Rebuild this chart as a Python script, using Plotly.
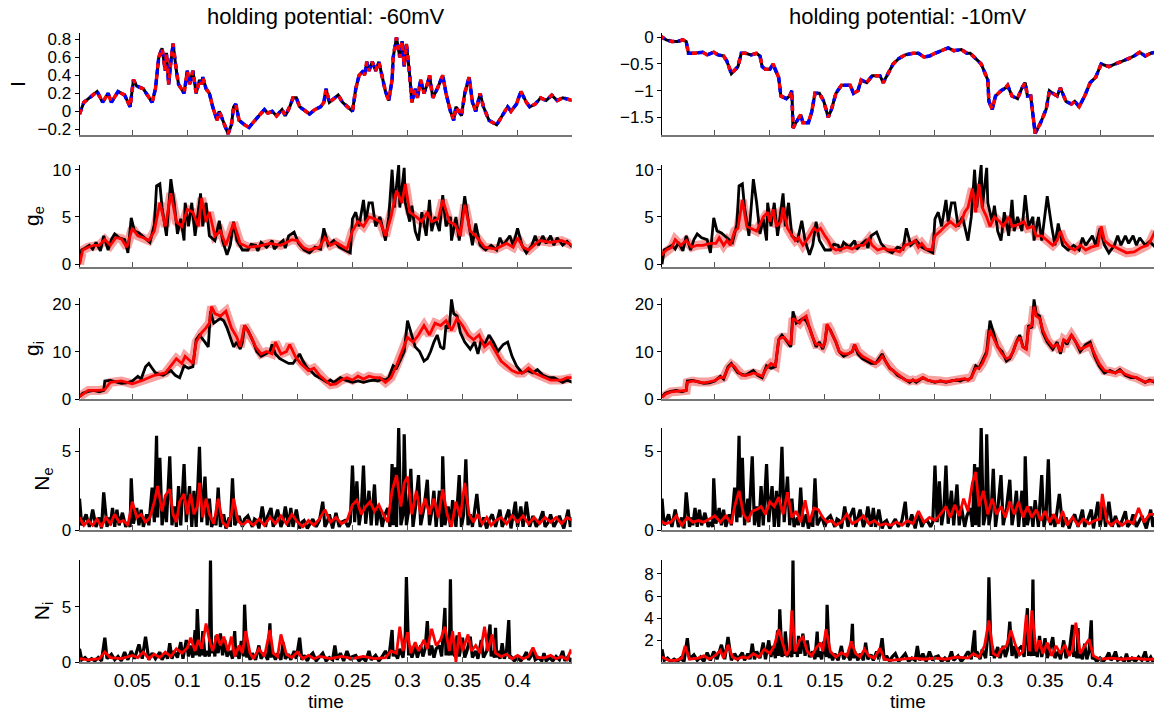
import plotly.graph_objects as go

# ---------------- data (time, value) ----------------
I_left = [(0.002,-0.03),(0.006,0.10),(0.011,0.15),(0.018,0.22),(0.023,0.10),(0.028,0.20),(0.031,0.10),(0.037,0.22),
(0.043,0.18),(0.048,0.05),(0.051,0.35),(0.054,0.28),(0.060,0.25),(0.065,0.15),(0.068,0.10),(0.071,0.25),(0.074,0.60),
(0.077,0.70),(0.080,0.45),(0.081,0.65),(0.083,0.30),(0.085,0.55),(0.087,0.75),(0.090,0.45),(0.092,0.30),(0.097,0.20),
(0.100,0.45),(0.102,0.30),(0.105,0.45),(0.108,0.20),(0.111,0.35),(0.113,0.30),(0.114,0.38),(0.117,0.25),(0.120,0.20),
(0.123,0.05),(0.127,-0.10),(0.129,0.00),(0.134,-0.15),(0.137,-0.25),(0.140,-0.15),(0.142,0.05),(0.144,0.08),(0.147,-0.10),
(0.152,-0.15),(0.156,-0.18),(0.160,-0.12),(0.165,-0.05),(0.170,0.02),(0.173,-0.02),(0.177,0.00),(0.181,-0.05),(0.186,0.02),
(0.189,-0.05),(0.193,0.05),(0.196,0.15),(0.199,0.15),(0.202,0.05),(0.208,0.00),(0.211,-0.03),(0.216,0.02),(0.221,0.05),
(0.224,0.10),(0.226,0.25),(0.229,0.10),(0.234,0.15),(0.237,0.18),(0.241,0.10),(0.246,0.05),(0.250,0.00),(0.253,0.25),
(0.256,0.40),(0.260,0.45),(0.261,0.40),(0.263,0.55),(0.265,0.45),(0.268,0.55),(0.271,0.45),(0.274,0.55),(0.278,0.35),
(0.280,0.22),(0.283,0.12),(0.286,0.35),(0.287,0.60),(0.290,0.82),(0.293,0.60),(0.295,0.78),(0.297,0.50),(0.299,0.75),
(0.302,0.40),(0.304,0.10),(0.307,0.25),(0.309,0.15),(0.312,0.35),(0.315,0.20),(0.318,0.30),(0.320,0.40),(0.323,0.15),
(0.327,0.25),(0.332,0.40),(0.335,0.20),(0.339,0.00),(0.342,-0.10),(0.344,0.05),(0.349,-0.05),(0.352,0.20),(0.356,0.38),
(0.359,0.10),(0.362,0.00),(0.366,0.20),(0.369,0.05),(0.374,-0.10),(0.381,-0.15),(0.386,-0.05),(0.391,0.05),(0.394,0.00),
(0.399,0.08),(0.403,0.22),(0.408,0.10),(0.411,0.05),(0.416,0.08),(0.421,0.15),(0.426,0.12),(0.431,0.18),(0.436,0.12),
(0.441,0.15),(0.450,0.12)]

I_right = [(0.000,0.03),(0.006,-0.05),(0.011,-0.08),(0.016,-0.08),(0.021,-0.05),(0.024,-0.08),(0.026,-0.30),(0.031,-0.30),
(0.039,-0.28),(0.043,-0.33),(0.049,-0.28),(0.053,-0.33),(0.058,-0.35),(0.061,-0.45),(0.065,-0.68),(0.069,-0.60),(0.071,-0.55),
(0.074,-0.30),(0.078,-0.30),(0.083,-0.33),(0.088,-0.30),(0.091,-0.35),(0.093,-0.55),(0.096,-0.60),(0.100,-0.60),(0.103,-0.50),
(0.105,-0.62),(0.108,-0.75),(0.110,-1.10),(0.115,-1.15),(0.118,-1.10),(0.120,-1.00),(0.121,-1.70),(0.125,-1.55),(0.128,-1.45),
(0.130,-1.60),(0.135,-1.60),(0.138,-1.40),(0.141,-1.05),(0.145,-1.05),(0.149,-1.20),(0.153,-1.50),(0.156,-1.35),(0.160,-1.05),
(0.165,-0.90),(0.170,-0.90),(0.173,-0.90),(0.176,-1.05),(0.180,-1.00),(0.183,-0.80),(0.188,-0.85),(0.193,-0.72),(0.200,-0.72),
(0.203,-0.85),(0.207,-0.70),(0.212,-0.50),(0.217,-0.40),(0.223,-0.33),(0.230,-0.30),(0.235,-0.30),(0.240,-0.37),(0.245,-0.35),
(0.250,-0.30),(0.257,-0.25),(0.262,-0.20),(0.267,-0.25),(0.274,-0.23),(0.279,-0.30),(0.282,-0.30),(0.287,-0.40),(0.292,-0.50),
(0.295,-0.65),(0.298,-0.80),(0.299,-1.20),(0.302,-1.35),(0.305,-1.10),(0.310,-1.00),(0.314,-0.95),(0.316,-0.90),(0.320,-1.10),
(0.325,-1.15),(0.329,-0.95),(0.332,-0.85),(0.334,-1.10),(0.337,-1.10),(0.341,-1.80),(0.346,-1.60),(0.351,-1.35),(0.354,-1.00),
(0.357,-1.05),(0.361,-1.10),(0.364,-0.95),(0.369,-1.20),(0.374,-1.25),(0.377,-1.20),(0.381,-1.30),(0.386,-1.10),(0.391,-0.85),
(0.396,-0.75),(0.401,-0.50),(0.408,-0.55),(0.414,-0.50),(0.421,-0.45),(0.426,-0.40),(0.431,-0.35),(0.436,-0.28),(0.441,-0.35),
(0.446,-0.30),(0.450,-0.28)]

ge_true = [(0.002,0.0),(0.004,1.5),(0.007,1.7),(0.011,2.0),(0.014,1.6),(0.017,2.3),(0.021,1.4),(0.024,3.0),(0.028,1.5),
(0.031,2.6),(0.034,3.2),(0.038,2.8),(0.043,2.6),(0.046,1.2),(0.049,4.9),(0.052,3.5),(0.056,3.3),(0.061,2.8),(0.066,2.3),
(0.070,4.2),(0.072,8.3),(0.075,8.5),(0.077,6.0),(0.081,3.0),(0.085,9.0),(0.088,6.5),(0.091,3.2),(0.094,4.8),(0.097,2.5),
(0.098,6.5),(0.101,4.0),(0.104,6.5),(0.107,3.0),(0.112,7.5),(0.114,4.0),(0.117,6.5),(0.120,3.0),(0.125,2.5),(0.129,4.6),
(0.132,2.5),(0.136,1.0),(0.139,2.0),(0.142,4.5),(0.145,2.5),(0.150,1.5),(0.155,1.5),(0.158,2.1),(0.162,2.0),(0.164,1.4),
(0.167,2.3),(0.172,1.8),(0.177,2.5),(0.179,1.6),(0.182,2.0),(0.187,2.5),(0.189,1.7),(0.192,3.0),(0.197,3.4),(0.201,2.2),
(0.206,1.5),(0.211,1.2),(0.216,1.8),(0.221,1.6),(0.224,3.8),(0.228,2.0),(0.233,2.5),(0.238,1.8),(0.243,1.5),(0.248,1.2),
(0.250,4.8),(0.253,5.5),(0.256,4.0),(0.260,6.8),(0.262,4.5),(0.265,6.5),(0.268,6.5),(0.271,4.0),(0.275,5.0),(0.280,2.5),
(0.283,5.0),(0.286,10.0),(0.288,6.0),(0.292,10.5),(0.293,6.0),(0.297,10.2),(0.298,6.5),(0.302,4.5),(0.304,6.2),(0.307,3.5),
(0.310,2.5),(0.313,5.5),(0.317,3.0),(0.320,6.8),(0.322,3.5),(0.325,5.0),(0.329,3.5),(0.332,7.3),(0.335,4.0),(0.339,5.0),
(0.340,2.5),(0.344,5.0),(0.347,2.5),(0.352,7.2),(0.356,4.0),(0.359,2.0),(0.362,4.3),(0.366,2.0),(0.371,1.5),(0.376,2.0),
(0.381,1.5),(0.384,2.8),(0.387,2.0),(0.393,3.0),(0.396,2.0),(0.400,3.8),(0.404,2.0),(0.408,1.2),(0.413,2.0),(0.416,3.0),
(0.419,2.0),(0.423,3.0),(0.426,2.2),(0.430,3.0),(0.433,2.0),(0.436,2.8),(0.441,2.0),(0.445,2.4),(0.450,1.8)]

ge_est_left = [(0.002,0.0),(0.005,1.5),(0.010,1.8),(0.015,2.0),(0.020,2.0),(0.025,2.6),(0.030,2.0),(0.035,2.8),(0.040,2.7),
(0.045,1.8),(0.050,3.8),(0.055,3.0),(0.060,2.8),(0.065,2.5),(0.070,3.5),(0.075,6.5),(0.080,4.0),(0.085,7.5),(0.090,4.5),
(0.095,4.0),(0.100,5.8),(0.105,5.5),(0.110,4.0),(0.113,7.0),(0.117,4.5),(0.120,5.5),(0.125,3.0),(0.130,3.5),(0.135,2.0),
(0.142,4.4),(0.148,2.2),(0.155,1.8),(0.165,1.9),(0.175,2.2),(0.185,2.0),(0.195,2.6),(0.200,2.5),(0.205,1.8),(0.210,1.5),
(0.220,1.8),(0.225,2.8),(0.230,2.0),(0.235,2.3),(0.245,1.6),(0.250,3.5),(0.255,4.5),(0.260,4.0),(0.265,5.0),(0.270,4.8),
(0.275,4.5),(0.280,3.0),(0.285,5.0),(0.290,7.8),(0.295,6.5),(0.298,8.5),(0.302,5.5),(0.308,5.0),(0.313,4.5),(0.318,5.5),
(0.322,4.5),(0.328,4.8),(0.332,6.8),(0.338,4.5),(0.343,4.2),(0.348,3.0),(0.352,6.3),(0.357,3.5),(0.362,3.0),(0.370,1.8),
(0.380,1.6),(0.390,2.2),(0.396,1.8),(0.400,2.8),(0.405,1.8),(0.410,1.5),(0.420,2.5),(0.430,2.3),(0.440,2.5),(0.450,2.0)]

ge_est_right = [(0.000,0.8),(0.006,1.5),(0.011,1.8),(0.014,2.6),(0.019,2.0),(0.024,2.5),(0.029,1.8),(0.034,2.0),(0.039,2.0),
(0.046,2.2),(0.051,2.2),(0.054,2.8),(0.058,2.0),(0.061,2.5),(0.064,2.0),(0.068,3.5),(0.071,3.8),(0.075,6.8),(0.079,4.0),
(0.083,3.8),(0.088,3.5),(0.091,4.2),(0.094,5.0),(0.098,5.5),(0.100,4.5),(0.103,5.8),(0.106,4.0),(0.110,4.5),(0.112,6.0),
(0.116,3.8),(0.120,3.0),(0.123,2.5),(0.126,2.8),(0.130,2.0),(0.135,2.8),(0.140,3.8),(0.143,3.5),(0.146,3.8),(0.150,3.0),
(0.153,2.5),(0.156,1.8),(0.160,1.5),(0.165,1.6),(0.170,1.8),(0.175,1.6),(0.180,2.0),(0.185,2.0),(0.190,2.7),(0.193,2.0),
(0.198,1.5),(0.203,1.7),(0.208,1.5),(0.213,1.5),(0.218,1.3),(0.223,2.0),(0.228,2.2),(0.232,2.5),(0.235,1.8),(0.238,2.2),
(0.242,1.6),(0.247,1.5),(0.250,3.0),(0.255,3.5),(0.259,4.0),(0.264,4.5),(0.269,4.0),(0.274,4.5),(0.277,5.5),(0.280,6.0),
(0.284,8.0),(0.287,5.5),(0.290,8.5),(0.293,6.0),(0.297,5.0),(0.300,4.0),(0.304,5.0),(0.309,4.5),(0.312,4.0),(0.317,5.0),
(0.320,4.0),(0.326,4.2),(0.331,4.5),(0.334,3.8),(0.339,4.0),(0.342,3.0),(0.347,3.0),(0.352,2.5),(0.357,2.0),(0.361,2.5),
(0.364,3.5),(0.367,2.5),(0.372,1.8),(0.377,1.5),(0.382,2.0),(0.387,1.5),(0.392,1.8),(0.398,2.0),(0.401,4.0),(0.404,2.5),
(0.409,2.0),(0.414,1.8),(0.419,1.5),(0.424,1.2),(0.431,1.3),(0.438,1.8),(0.443,2.0),(0.446,2.5),(0.450,3.5)]

gi_t = [0.002,0.005,0.010,0.015,0.020,0.024,0.025,0.030,0.035,0.040,0.045,0.050,0.055,0.058,0.062,0.065,0.068,0.071,0.075,
0.078,0.082,0.085,0.089,0.093,0.097,0.101,0.105,0.108,0.111,0.113,0.116,0.119,0.121,0.124,0.127,0.130,0.133,0.136,0.139,
0.142,0.145,0.148,0.150,0.152,0.155,0.158,0.160,0.163,0.167,0.171,0.175,0.177,0.180,0.184,0.188,0.192,0.196,0.199,0.202,
0.205,0.209,0.212,0.216,0.220,0.223,0.227,0.230,0.233,0.236,0.239,0.243,0.247,0.250,0.255,0.260,0.265,0.270,0.273,0.277,
0.280,0.283,0.287,0.290,0.293,0.297,0.300,0.303,0.307,0.311,0.315,0.318,0.321,0.324,0.327,0.330,0.333,0.335,0.338,0.340,
0.342,0.345,0.348,0.352,0.357,0.361,0.364,0.367,0.370,0.374,0.378,0.382,0.387,0.391,0.395,0.399,0.404,0.409,0.414,0.418,
0.423,0.428,0.433,0.437,0.441,0.445,0.450]
gi_true_v = [0.5,1.2,1.6,1.8,1.5,1.8,3.8,3.9,3.6,3.3,3.4,3.8,4.8,4.2,6.8,7.5,6.5,5.5,5.2,5.0,5.6,6.0,5.0,4.5,7.0,6.5,6.8,
12.5,13.5,12.8,12.0,11.0,18.5,16.0,16.5,17.0,16.5,15.0,13.0,11.0,12.0,10.5,12.0,15.5,14.5,13.0,12.0,10.0,9.0,9.5,10.0,
11.5,9.5,8.5,8.0,7.5,7.5,8.5,9.5,8.0,6.5,6.0,5.0,4.5,4.0,3.5,4.0,3.5,4.0,4.5,4.0,3.8,3.5,3.8,3.5,3.8,4.0,3.8,4.2,4.0,
4.5,7.0,6.5,8.0,10.0,16.5,14.0,11.0,10.0,8.0,8.5,10.0,12.0,13.5,11.0,10.5,15.5,15.0,21.0,18.0,17.5,14.0,12.0,10.5,12.0,
9.5,12.5,11.5,13.5,12.0,10.0,11.5,12.0,9.0,7.0,5.5,6.0,5.5,6.2,5.0,4.5,4.5,4.0,3.5,4.0,3.5]
gi_est_right_v = [0.3,1.0,1.5,1.6,1.6,1.8,3.5,3.8,3.6,3.4,3.6,3.9,4.6,4.5,6.5,7.3,6.8,5.8,5.0,5.0,5.2,5.5,5.2,4.8,6.5,7.5,
7.0,12.5,13.0,13.0,12.2,11.5,17.0,16.5,16.0,17.0,17.5,15.0,13.0,11.5,11.5,11.0,12.0,15.8,14.5,13.0,12.0,10.0,9.5,9.5,
10.0,11.5,10.0,9.0,8.5,8.0,7.5,8.0,9.0,8.0,6.5,6.0,5.2,4.5,4.0,3.8,4.0,3.8,4.2,4.5,4.0,3.8,3.6,3.8,3.6,3.8,4.0,4.0,4.3,
4.0,4.5,6.5,6.5,7.5,9.5,14.5,13.0,11.0,9.5,8.5,8.8,10.0,12.0,13.0,11.0,10.5,15.0,15.5,19.5,17.5,17.0,14.5,12.5,11.0,11.5,
10.0,12.5,12.0,13.5,12.0,10.5,11.0,11.5,9.5,7.5,6.0,5.8,5.5,6.0,5.2,4.8,4.5,4.0,3.6,3.8,3.8]

gi_est_left = [(0.002,0.5),(0.010,1.8),(0.020,1.8),(0.025,2.0),(0.030,3.5),(0.040,3.8),(0.050,3.2),(0.060,4.0),(0.070,5.0),
(0.080,5.5),(0.085,7.0),(0.090,8.5),(0.095,7.5),(0.098,9.0),(0.105,7.5),(0.108,12.0),(0.113,14.0),(0.117,15.0),(0.120,16.0),
(0.122,19.5),(0.125,18.0),(0.130,17.5),(0.135,18.5),(0.140,15.0),(0.145,13.0),(0.148,11.0),(0.152,15.5),(0.157,13.5),
(0.162,11.0),(0.167,9.5),(0.172,10.0),(0.177,9.5),(0.180,12.0),(0.185,9.5),(0.190,10.0),(0.193,11.5),(0.198,9.0),(0.203,7.5),
(0.210,6.0),(0.215,6.5),(0.220,5.0),(0.225,4.0),(0.230,3.0),(0.235,3.2),(0.240,4.0),(0.245,4.5),(0.250,4.0),(0.255,4.8),
(0.260,4.2),(0.265,4.8),(0.270,4.5),(0.275,4.5),(0.280,3.5),(0.285,4.5),(0.290,7.0),(0.295,10.0),(0.300,13.0),(0.305,12.0),
(0.310,13.5),(0.315,15.5),(0.320,13.5),(0.325,16.0),(0.330,15.5),(0.335,16.5),(0.340,14.5),(0.345,17.0),(0.350,15.5),
(0.355,13.5),(0.360,12.5),(0.365,13.5),(0.370,11.0),(0.375,12.0),(0.380,10.0),(0.385,8.0),(0.390,7.0),(0.395,6.0),
(0.400,5.5),(0.405,5.5),(0.410,6.5),(0.415,5.5),(0.420,5.0),(0.430,4.0),(0.440,4.0),(0.445,4.5),(0.450,4.5)]

Ne_true = [(0.002,2.0),(0.004,0.3),(0.008,1.0),(0.011,0.2),(0.014,1.3),(0.017,0.2),(0.020,0.8),(0.022,0.1),(0.024,2.4),
(0.027,0.2),(0.029,0.8),(0.030,0.3),(0.032,1.4),(0.034,0.2),(0.036,1.3),(0.038,0.3),(0.041,1.1),(0.044,0.2),(0.046,0.5),
(0.048,0.2),(0.049,3.3),(0.051,0.4),(0.054,1.4),(0.056,0.3),(0.058,1.3),(0.060,0.2),(0.063,1.0),(0.065,0.3),(0.068,2.7),
(0.070,0.5),(0.072,6.0),(0.073,0.8),(0.075,4.6),(0.077,0.3),(0.080,2.0),(0.081,0.5),(0.084,4.7),(0.086,0.3),(0.088,1.5),
(0.090,0.2),(0.092,2.8),(0.094,0.3),(0.097,4.2),(0.099,0.5),(0.102,2.8),(0.104,0.2),(0.106,2.5),(0.108,0.2),(0.111,5.3),
(0.113,0.5),(0.116,3.4),(0.118,0.3),(0.120,2.0),(0.122,0.2),(0.125,0.8),(0.126,0.3),(0.128,2.7),(0.130,0.2),(0.133,1.0),
(0.135,0.1),(0.138,0.8),(0.139,0.2),(0.141,3.3),(0.143,0.3),(0.145,0.6),(0.147,0.9),(0.150,0.2),(0.152,0.7),(0.155,0.9),
(0.159,0.2),(0.161,0.7),(0.163,0.6),(0.165,0.1),(0.168,1.5),(0.171,0.2),(0.173,0.9),(0.176,1.4),(0.178,0.2),(0.180,0.8),
(0.182,1.3),(0.185,0.2),(0.187,0.6),(0.189,1.5),(0.192,0.2),(0.194,1.4),(0.196,0.2),(0.199,1.3),(0.202,0.1),(0.204,0.5),
(0.206,0.6),(0.209,0.1),(0.212,0.5),(0.214,0.7),(0.217,0.2),(0.220,0.6),(0.223,1.8),(0.225,0.2),(0.227,0.5),(0.229,1.0),
(0.232,0.1),(0.235,1.1),(0.238,0.2),(0.240,0.5),(0.243,0.6),(0.246,0.2),(0.248,0.5),(0.250,4.1),(0.252,0.5),(0.254,3.1),
(0.256,0.3),(0.258,1.2),(0.260,4.1),(0.262,0.4),(0.265,2.5),(0.267,0.3),(0.270,2.9),(0.272,0.3),(0.274,1.5),(0.277,0.2),
(0.279,0.9),(0.282,1.4),(0.284,0.2),(0.286,4.2),(0.287,0.3),(0.289,4.0),(0.290,0.2),(0.292,6.5),(0.294,0.3),(0.296,1.0),
(0.297,6.1),(0.299,0.3),(0.301,1.2),(0.303,3.9),(0.305,0.2),(0.307,1.3),(0.310,3.5),(0.312,0.3),(0.315,1.4),(0.318,3.2),
(0.320,0.3),(0.322,1.2),(0.324,2.5),(0.326,0.2),(0.329,2.5),(0.331,0.2),(0.332,4.7),(0.334,0.3),(0.337,1.5),(0.339,0.2),
(0.341,1.9),(0.344,0.2),(0.347,3.5),(0.349,0.2),(0.351,1.0),(0.353,4.5),(0.355,0.3),(0.357,1.0),(0.359,0.2),(0.363,2.3),
(0.366,0.2),(0.369,0.8),(0.372,0.1),(0.374,0.6),(0.377,1.0),(0.380,0.2),(0.384,1.3),(0.386,0.2),(0.389,0.7),(0.392,1.3),
(0.394,0.1),(0.398,1.8),(0.400,0.2),(0.403,1.5),(0.405,0.2),(0.408,1.8),(0.411,0.2),(0.414,0.9),(0.417,0.2),(0.420,0.6),
(0.423,1.2),(0.425,0.2),(0.428,0.5),(0.430,1.0),(0.433,0.2),(0.436,0.6),(0.438,0.9),(0.442,0.1),(0.446,1.3),(0.448,0.2),
(0.450,0.8)]

Ne_est_left = [(0.002,0.8),(0.006,0.3),(0.010,0.6),(0.014,0.3),(0.018,0.7),(0.022,0.2),(0.026,0.8),(0.030,0.4),(0.034,1.0),
(0.038,0.5),(0.042,0.6),(0.046,0.3),(0.050,1.8),(0.054,0.8),(0.058,1.0),(0.062,0.5),(0.066,0.8),(0.070,1.8),(0.073,2.8),
(0.077,1.2),(0.080,2.2),(0.084,2.6),(0.087,1.0),(0.090,0.5),(0.093,1.8),(0.097,2.3),(0.100,1.0),(0.103,2.3),(0.106,1.0),
(0.109,1.5),(0.111,3.0),(0.114,0.8),(0.117,2.0),(0.120,1.0),(0.124,0.4),(0.128,2.0),(0.132,0.5),(0.136,0.2),(0.140,1.0),
(0.142,2.0),(0.146,0.6),(0.150,0.3),(0.155,0.6),(0.160,0.3),(0.165,0.7),(0.170,0.3),(0.175,0.8),(0.180,0.4),(0.185,0.9),
(0.190,0.4),(0.195,1.0),(0.200,0.5),(0.205,0.2),(0.210,0.6),(0.215,0.3),(0.220,0.7),(0.225,1.3),(0.230,0.5),(0.235,0.8),
(0.240,0.4),(0.245,0.6),(0.250,1.6),(0.254,1.9),(0.258,1.0),(0.262,1.5),(0.266,1.8),(0.270,1.2),(0.274,1.6),(0.278,1.0),
(0.282,0.5),(0.286,2.5),(0.290,3.5),(0.294,1.5),(0.297,3.0),(0.300,3.4),(0.304,1.0),(0.308,2.5),(0.312,1.0),(0.316,2.0),
(0.320,1.0),(0.324,2.0),(0.328,0.8),(0.332,2.6),(0.336,1.0),(0.340,0.2),(0.344,1.8),(0.348,0.8),(0.352,3.0),(0.356,1.0),
(0.360,0.5),(0.364,1.0),(0.368,0.4),(0.372,0.8),(0.376,0.3),(0.380,0.6),(0.385,0.8),(0.390,0.4),(0.395,0.9),(0.400,0.5),
(0.405,0.9),(0.410,0.4),(0.415,0.8),(0.420,0.4),(0.425,0.8),(0.430,0.5),(0.435,0.8),(0.440,0.4),(0.445,0.8),(0.450,0.6)]

Ne_est_right = [(0.000,0.6),(0.005,0.4),(0.010,0.5),(0.015,0.9),(0.020,0.3),(0.025,0.8),(0.030,0.5),(0.035,0.6),(0.040,0.5),
(0.045,0.7),(0.050,0.9),(0.055,0.5),(0.060,0.9),(0.065,0.4),(0.068,1.5),(0.072,2.5),(0.076,1.0),(0.080,0.6),(0.084,1.2),
(0.088,1.3),(0.092,1.5),(0.096,1.0),(0.100,1.8),(0.104,1.5),(0.108,2.1),(0.112,1.0),(0.116,2.4),(0.120,0.8),(0.124,1.2),
(0.128,0.5),(0.132,1.9),(0.136,0.5),(0.140,1.4),(0.144,1.3),(0.148,0.8),(0.152,0.5),(0.156,0.6),(0.160,0.3),(0.165,0.5),
(0.170,1.0),(0.175,0.4),(0.180,0.6),(0.185,0.9),(0.190,0.4),(0.195,0.6),(0.200,0.3),(0.205,0.4),(0.210,0.3),(0.215,0.5),
(0.220,0.3),(0.225,0.6),(0.230,0.4),(0.235,1.2),(0.240,0.5),(0.245,0.8),(0.250,0.6),(0.255,1.0),(0.260,1.5),(0.264,0.8),
(0.268,1.6),(0.272,0.9),(0.276,2.0),(0.280,1.2),(0.284,3.0),(0.287,3.7),(0.290,1.5),(0.294,2.5),(0.298,1.0),(0.302,2.0),
(0.306,1.0),(0.310,1.5),(0.314,0.8),(0.318,1.8),(0.322,1.0),(0.326,1.8),(0.330,0.8),(0.334,1.5),(0.338,0.8),(0.342,1.3),
(0.346,0.6),(0.350,1.2),(0.354,0.5),(0.358,1.0),(0.362,0.4),(0.366,1.2),(0.370,0.3),(0.375,0.8),(0.380,0.3),(0.385,0.7),
(0.390,0.4),(0.395,0.6),(0.400,0.7),(0.402,2.3),(0.406,0.6),(0.410,0.3),(0.415,0.6),(0.420,0.3),(0.425,0.6),(0.430,0.4),
(0.435,1.4),(0.440,0.5),(0.445,1.0),(0.450,1.0)]

Ni_true = [(0.002,1.2),(0.004,0.2),(0.007,0.4),(0.010,0.1),(0.013,0.3),(0.016,0.1),(0.019,0.4),(0.022,0.1),(0.025,2.2),
(0.027,0.3),(0.031,0.7),(0.034,0.2),(0.037,0.5),(0.040,0.1),(0.043,0.9),(0.046,0.2),(0.049,1.0),(0.052,0.3),(0.056,1.6),
(0.059,0.3),(0.062,2.3),(0.065,0.2),(0.068,0.8),(0.071,0.3),(0.075,0.9),(0.077,0.2),(0.080,0.8),(0.082,0.3),(0.084,1.7),
(0.086,0.3),(0.088,1.0),(0.091,0.4),(0.094,1.8),(0.096,0.3),(0.099,2.0),(0.101,0.5),(0.103,1.5),(0.105,0.4),(0.107,2.9),
(0.108,0.6),(0.109,4.8),(0.111,0.5),(0.112,1.5),(0.113,0.6),(0.114,2.8),(0.116,0.5),(0.118,1.0),(0.120,0.5),(0.121,9.2),
(0.122,0.8),(0.124,1.5),(0.125,0.5),(0.126,2.4),(0.128,0.8),(0.130,2.6),(0.132,0.6),(0.134,2.0),(0.136,0.5),(0.139,1.0),
(0.141,0.3),(0.143,2.8),(0.144,0.5),(0.145,1.0),(0.147,0.3),(0.149,1.9),(0.151,0.5),(0.152,5.2),(0.154,0.4),(0.155,1.0),
(0.157,0.2),(0.159,0.8),(0.162,0.2),(0.165,1.5),(0.167,0.3),(0.170,0.8),(0.173,0.2),(0.175,3.5),(0.176,0.4),(0.177,1.0),
(0.180,0.2),(0.182,0.8),(0.185,0.2),(0.187,1.8),(0.189,0.3),(0.192,0.7),(0.194,0.2),(0.197,1.0),(0.199,0.3),(0.202,2.2),
(0.204,0.2),(0.206,0.6),(0.209,0.1),(0.211,0.5),(0.214,0.8),(0.217,0.1),(0.220,0.5),(0.223,0.8),(0.226,0.1),(0.229,0.4),
(0.232,0.2),(0.234,1.5),(0.236,0.2),(0.239,0.8),(0.242,0.1),(0.245,1.0),(0.248,0.2),(0.250,0.5),(0.253,0.6),(0.256,0.1),
(0.259,0.4),(0.262,0.1),(0.265,1.0),(0.267,0.2),(0.271,0.6),(0.274,0.1),(0.277,0.5),(0.280,1.0),(0.283,0.3),(0.286,2.9),
(0.287,0.5),(0.288,1.0),(0.291,0.3),(0.293,1.2),(0.296,0.4),(0.298,2.5),(0.299,7.7),(0.301,0.6),(0.302,1.5),(0.304,0.4),
(0.307,1.4),(0.309,0.4),(0.312,1.5),(0.314,0.5),(0.316,1.2),(0.318,3.7),(0.320,0.6),(0.322,1.5),(0.324,0.4),(0.326,1.2),
(0.329,1.5),(0.331,0.5),(0.334,4.9),(0.335,0.6),(0.336,1.5),(0.338,0.6),(0.339,7.5),(0.340,0.6),(0.341,1.5),(0.343,0.5),
(0.345,2.4),(0.347,0.5),(0.350,2.2),(0.352,0.4),(0.354,1.0),(0.357,2.3),(0.359,0.4),(0.362,1.0),(0.364,0.3),(0.367,2.0),
(0.369,0.4),(0.372,1.0),(0.375,3.4),(0.376,0.5),(0.377,1.0),(0.379,0.4),(0.380,3.1),(0.381,0.4),(0.382,1.0),(0.384,0.3),
(0.386,1.7),(0.388,0.3),(0.390,1.0),(0.392,3.8),(0.393,0.3),(0.394,0.5),(0.397,0.1),(0.400,0.4),(0.403,0.1),(0.406,0.5),
(0.408,0.9),(0.410,0.2),(0.412,0.5),(0.414,1.0),(0.416,0.2),(0.419,0.4),(0.422,0.1),(0.424,0.8),(0.426,0.1),(0.429,0.4),
(0.432,0.1),(0.435,0.5),(0.438,0.2),(0.441,1.0),(0.443,0.1),(0.446,0.5),(0.448,0.1),(0.450,0.3)]

Ni_est_left = [(0.002,0.3),(0.010,0.2),(0.020,0.3),(0.025,0.9),(0.030,0.4),(0.040,0.3),(0.050,0.6),(0.055,0.4),(0.060,0.9),
(0.065,0.3),(0.070,0.7),(0.075,0.4),(0.080,0.9),(0.085,0.5),(0.090,1.2),(0.095,0.8),(0.100,1.3),(0.103,2.2),(0.107,1.0),
(0.110,2.0),(0.113,1.2),(0.117,3.5),(0.120,2.0),(0.123,1.0),(0.127,2.5),(0.130,1.5),(0.133,2.3),(0.137,1.0),(0.140,2.3),
(0.143,0.5),(0.147,1.5),(0.150,0.8),(0.153,2.8),(0.157,0.8),(0.160,0.3),(0.165,1.2),(0.170,0.5),(0.175,2.9),(0.178,0.8),
(0.182,0.5),(0.185,2.5),(0.190,0.7),(0.195,0.4),(0.200,0.9),(0.205,0.3),(0.210,0.6),(0.215,0.3),(0.220,0.5),(0.230,0.3),
(0.240,0.5),(0.250,0.3),(0.260,0.5),(0.270,0.3),(0.280,0.4),(0.285,1.0),(0.290,0.8),(0.293,3.2),(0.296,1.0),(0.300,2.7),
(0.303,0.8),(0.307,1.8),(0.310,1.0),(0.315,2.0),(0.318,1.2),(0.322,3.0),(0.326,1.5),(0.330,2.0),(0.334,3.2),(0.338,1.0),
(0.341,2.8),(0.344,0.0),(0.347,2.7),(0.350,1.0),(0.355,2.5),(0.358,1.0),(0.362,1.5),(0.366,0.8),(0.370,3.2),(0.373,1.0),
(0.377,2.5),(0.380,0.8),(0.385,0.5),(0.390,0.7),(0.395,0.3),(0.400,0.6),(0.405,0.3),(0.410,0.5),(0.414,1.3),(0.418,0.4),
(0.425,0.4),(0.430,0.6),(0.435,0.3),(0.440,0.5),(0.445,0.2),(0.448,1.0),(0.450,0.8)]

Ni_est_right = [(0.002,0.5),(0.008,0.2),(0.015,0.2),(0.020,0.4),(0.023,1.5),(0.027,0.3),(0.035,0.4),(0.040,0.6),(0.045,0.3),
(0.050,0.6),(0.055,1.1),(0.058,0.4),(0.062,1.6),(0.066,0.5),(0.070,0.3),(0.075,0.5),(0.080,0.4),(0.085,0.8),(0.090,0.5),
(0.095,1.2),(0.100,0.8),(0.104,1.5),(0.108,3.0),(0.112,1.5),(0.115,0.6),(0.118,1.2),(0.120,4.7),(0.123,1.0),(0.127,2.0),
(0.130,2.3),(0.134,1.0),(0.138,0.6),(0.142,1.3),(0.146,1.8),(0.148,1.0),(0.151,3.0),(0.155,1.0),(0.160,0.5),(0.165,0.9),
(0.170,0.6),(0.174,1.9),(0.178,0.8),(0.182,0.5),(0.186,1.2),(0.190,0.6),(0.195,0.4),(0.200,1.3),(0.204,0.3),(0.210,0.2),
(0.220,0.3),(0.230,0.4),(0.240,0.3),(0.250,0.4),(0.260,0.3),(0.270,0.5),(0.280,0.4),(0.285,0.8),(0.290,0.5),(0.295,1.5),
(0.299,3.8),(0.303,0.8),(0.307,0.6),(0.310,1.2),(0.315,1.5),(0.319,2.9),(0.323,1.6),(0.327,0.7),(0.330,1.0),(0.333,4.3),
(0.336,1.0),(0.338,4.7),(0.342,1.0),(0.345,2.0),(0.348,0.8),(0.352,1.8),(0.356,0.6),(0.360,1.5),(0.364,0.8),(0.368,1.6),
(0.372,0.6),(0.375,1.2),(0.378,3.6),(0.382,0.8),(0.386,1.5),(0.390,2.1),(0.394,0.6),(0.400,0.3),(0.410,0.4),(0.420,0.3),
(0.430,0.4),(0.440,0.3),(0.450,0.3)]

row_titles = ["I", "g<sub>e</sub>", "g<sub>i</sub>", "N<sub>e</sub>", "N<sub>i</sub>"]
col_titles = ["holding potential: -60mV", "holding potential: -10mV"]
x_ticks = [0.05, 0.1, 0.15, 0.2, 0.25, 0.3, 0.35, 0.4]
x_tick_text = ["0.05", "0.1", "0.15", "0.2", "0.25", "0.3", "0.35", "0.4"]
x_label = "time"

# ---------------- layout ----------------
W, H = 1156, 711
FONT = "Liberation Sans, Arial, Helvetica, sans-serif"
XD = [[79.5 / W, 571.5 / W], [662 / W, 1154 / W]]
RP = [(33, 135), (165, 267), (298, 399), (428, 530), (560, 662)]
YD = [[1 - b / H, 1 - a / H] for a, b in RP]

yspec = {
    (0, 0): ([-0.263, 0.87], [-0.2, 0, 0.2, 0.4, 0.6, 0.8], ["\u22120.2", "0", "0.2", "0.4", "0.6", "0.8"]),
    (0, 1): ([-1.83, 0.08], [-1.5, -1, -0.5, 0], ["\u22121.5", "\u22121", "\u22120.5", "0"]),
    (1, 0): ([-0.3, 10.5], [0, 5, 10], ["0", "5", "10"]),
    (1, 1): ([-0.3, 10.5], [0, 5, 10], ["0", "5", "10"]),
    (2, 0): ([0, 21.3], [0, 10, 20], ["0", "10", "20"]),
    (2, 1): ([0, 21.3], [0, 10, 20], ["0", "10", "20"]),
    (3, 0): ([0, 6.5], [0, 5], ["0", "5"]),
    (3, 1): ([0, 6.5], [0, 5], ["0", "5"]),
    (4, 0): ([0, 9.25], [0, 5], ["0", "5"]),
    (4, 1): ([0.05, 9.25], [2, 4, 6, 8], ["2", "4", "6", "8"]),
}

fig = go.Figure()


def idx(r, c):
    return r * 2 + c + 1


def add(r, c, pts_t, pts_v, color, width, dash="solid"):
    i = idx(r, c)
    fig.add_trace(go.Scatter(x=pts_t, y=pts_v, mode="lines",
                             line=dict(color=color, width=width, dash=dash),
                             xaxis="x" if i == 1 else f"x{i}", yaxis="y" if i == 1 else f"y{i}",
                             showlegend=False, hoverinfo="skip"))


def sp(p):
    return [a for a, b in p], [b for a, b in p]


BLACK = "#000000"
RED = "#FF0000"
BAND = "rgba(244,128,128,0.75)"
BLUE = "#0000FF"

# row 1 : current
for c, series in enumerate([I_left, I_right]):
    t, v = sp(series)
    add(0, c, t, v, BLACK, 3)
    add(0, c, t, v, BLUE, 3.5, "6px,4px")
    add(0, c, t, v, RED, 3.5, "5px,6px")

# row 2 : g_e
tg, vg = sp(ge_true)
for c, est in enumerate([ge_est_left, ge_est_right]):
    t, v = sp(est)
    add(1, c, t, v, BAND, 9)
    add(1, c, tg, vg, BLACK, 2.8)
    add(1, c, t, v, RED, 2.8)

# row 3 : g_i
tl, vl = sp(gi_est_left)
add(2, 0, tl, vl, BAND, 9)
add(2, 0, gi_t, gi_true_v, BLACK, 2.8)
add(2, 0, tl, vl, RED, 2.8)
add(2, 1, gi_t, gi_est_right_v, BAND, 9)
add(2, 1, gi_t, gi_true_v, BLACK, 2.8)
add(2, 1, gi_t, gi_est_right_v, RED, 2.8)

# row 4 : N_e
tn, vn = sp(Ne_true)
for c, est in enumerate([Ne_est_left, Ne_est_right]):
    t, v = sp(est)
    add(3, c, tn, vn, BLACK, 3.2)
    add(3, c, t, v, RED, 2.8)

# row 5 : N_i
tn, vn = sp(Ni_true)
for c, est in enumerate([Ni_est_left, Ni_est_right]):
    t, v = sp(est)
    add(4, c, tn, vn, BLACK, 3.2)
    add(4, c, t, v, RED, 2.8)

layout = dict(width=W, height=H, margin=dict(l=0, r=0, t=0, b=0, autoexpand=False),
              paper_bgcolor="white", plot_bgcolor="white",
              font=dict(family=FONT, size=18, color="black"), showlegend=False)

for r in range(5):
    for c in range(2):
        i = idx(r, c)
        xs = "xaxis" if i == 1 else f"xaxis{i}"
        ys = "yaxis" if i == 1 else f"yaxis{i}"
        rng, tv, tt = yspec[(r, c)]
        layout[xs] = dict(domain=XD[c], range=[0.002, 0.449], anchor="y" if i == 1 else f"y{i}",
                          showline=True, linecolor="#777777", linewidth=2, ticks="inside", ticklen=5,
                          tickcolor="#555555", tickwidth=1, tickvals=x_ticks, ticktext=x_tick_text,
                          showticklabels=(r == 4), showgrid=False, zeroline=False, automargin=False,
                          tickfont=dict(family=FONT, size=19))
        yd = dict(domain=YD[r], range=rng, anchor="x" if i == 1 else f"x{i}",
                  showline=True, linecolor="black", linewidth=1, ticks="outside", ticklen=4,
                  tickcolor="black", tickwidth=1, tickvals=tv, ticktext=tt, automargin=False,
                  showgrid=False, zeroline=False, tickfont=dict(family=FONT, size=17))
        if c == 0:
            yd["title"] = dict(text=row_titles[r], font=dict(family=FONT, size=21), standoff=6)
        layout[ys] = yd

ann = []
for c in range(2):
    ann.append(dict(text=col_titles[c], x=(XD[c][0] + XD[c][1]) / 2, y=1 - 17 / H,
                    xref="paper", yref="paper", showarrow=False, xanchor="center", yanchor="middle",
                    font=dict(family=FONT, size=22)))
    ann.append(dict(text=x_label, x=(XD[c][0] + XD[c][1]) / 2, y=1 - 701 / H,
                    xref="paper", yref="paper", showarrow=False, xanchor="center", yanchor="middle",
                    font=dict(family=FONT, size=19)))
layout["annotations"] = ann

fig.update_layout(**layout)
fig.write_html("out.html", config={"displayModeBar": False},
               post_script="document.body.style.margin='0px';")
